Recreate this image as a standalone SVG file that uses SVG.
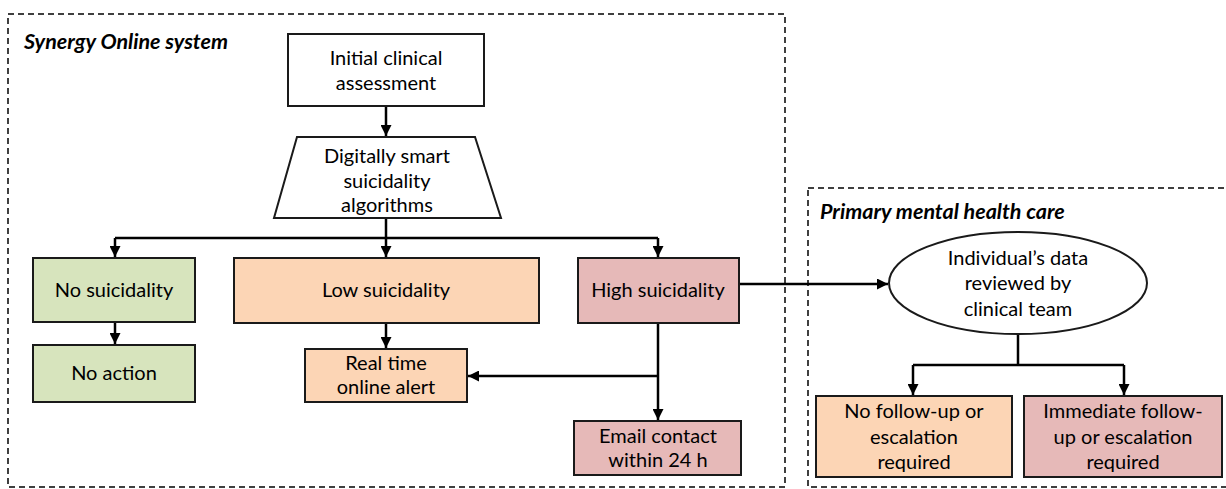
<svg xmlns="http://www.w3.org/2000/svg" width="1226" height="489" viewBox="0 0 1226 489">
<style>
  .t{font-family:Lato,"Open Sans","Liberation Sans",sans-serif;font-size:20px;fill:#000;text-anchor:middle}
  .lbl{font-family:Lato,"Open Sans","Liberation Sans",sans-serif;font-size:21.5px;font-weight:bold;font-style:italic;fill:#000}
  .box{stroke:#1a1a1a;stroke-width:2}
  .green{fill:#D7E4BD}
  .orange{fill:#FCD5B5}
  .pink{fill:#E6B9B8}
  .white{fill:#fff}
  .zone{fill:none;stroke:#000;stroke-width:1.5;stroke-dasharray:6 4}
  .c{fill:none;stroke:#000;stroke-width:2.5}
  .ca{fill:none;stroke:#000;stroke-width:2.5;marker-end:url(#ah)}
</style>
<defs>
  <marker id="ah" viewBox="0 0 10 10" refX="10" refY="5" markerWidth="4.4" markerHeight="4.4" markerUnits="strokeWidth" orient="auto">
    <path d="M0,0 L10,5 L0,10 z" fill="#000"/>
  </marker>
</defs>
<rect width="1226" height="489" fill="#fff"/>

<g id="zone-synergy">
  <rect class="zone" x="8" y="14" width="777" height="473"/>
  <text class="lbl" x="24" y="49">Synergy Online system</text>
</g>
<g id="zone-primary">
  <rect class="zone" x="808" y="188" width="430" height="299"/>
  <text class="lbl" x="820" y="219">Primary mental health care</text>
</g>

<g id="connectors">
  <path class="ca" d="M386,106 V136"/>
  <path class="c" d="M386,218 V238"/>
  <path class="c" d="M115,238 H658"/>
  <path class="ca" d="M115,238 V257"/>
  <path class="ca" d="M386,238 V257"/>
  <path class="ca" d="M658,238 V257"/>
  <path class="ca" d="M115,322 V344"/>
  <path class="ca" d="M386,323 V348"/>
  <path class="ca" d="M658,323 V420"/>
  <path class="ca" d="M658,376 H468"/>
  <path class="ca" d="M739,284 H888"/>
  <path class="c" d="M1018,335 V365"/>
  <path class="c" d="M913,365 H1124"/>
  <path class="ca" d="M913,365 V395"/>
  <path class="ca" d="M1124,365 V395"/>
</g>

<g id="initial">
  <rect class="box white" x="288" y="34" width="196" height="72"/>
  <text class="t" x="386" y="65">Initial clinical</text>
  <text class="t" x="386" y="90">assessment</text>
</g>
<g id="algorithms">
  <polygon class="box white" points="297,137 475,137 501,218 274,218"/>
  <text class="t" x="387" y="163">Digitally smart</text>
  <text class="t" x="387" y="188">suicidality</text>
  <text class="t" x="387" y="212">algorithms</text>
</g>
<g id="no-suicidality">
  <rect class="box green" x="33" y="258" width="162" height="64"/>
  <text class="t" x="114" y="297">No suicidality</text>
</g>
<g id="low-suicidality">
  <rect class="box orange" x="234" y="258" width="305" height="65"/>
  <text class="t" x="386" y="297">Low suicidality</text>
</g>
<g id="high-suicidality">
  <rect class="box pink" x="578" y="258" width="161" height="65"/>
  <text class="t" x="658" y="297">High suicidality</text>
</g>
<g id="no-action">
  <rect class="box green" x="33" y="345" width="162" height="57"/>
  <text class="t" x="114" y="380">No action</text>
</g>
<g id="real-time-alert">
  <rect class="box orange" x="305" y="349" width="162" height="53"/>
  <text class="t" x="386" y="370">Real time</text>
  <text class="t" x="386" y="394">online alert</text>
</g>
<g id="email-contact">
  <rect class="box pink" x="574" y="421" width="167" height="54"/>
  <text class="t" x="658" y="443">Email contact</text>
  <text class="t" x="658" y="467">within 24 h</text>
</g>
<g id="review">
  <ellipse class="box white" cx="1018" cy="283" rx="129" ry="51"/>
  <text class="t" x="1018" y="265">Individual’s data</text>
  <text class="t" x="1018" y="290">reviewed by</text>
  <text class="t" x="1018" y="316">clinical team</text>
</g>
<g id="no-follow-up">
  <rect class="box orange" x="816" y="396" width="196" height="81"/>
  <text class="t" x="914" y="418">No follow-up or</text>
  <text class="t" x="914" y="444">escalation</text>
  <text class="t" x="914" y="469">required</text>
</g>
<g id="immediate-follow-up">
  <rect class="box pink" x="1024" y="396" width="198" height="81"/>
  <text class="t" x="1123" y="418">Immediate follow-</text>
  <text class="t" x="1123" y="444">up or escalation</text>
  <text class="t" x="1123" y="469">required</text>
</g>
</svg>
